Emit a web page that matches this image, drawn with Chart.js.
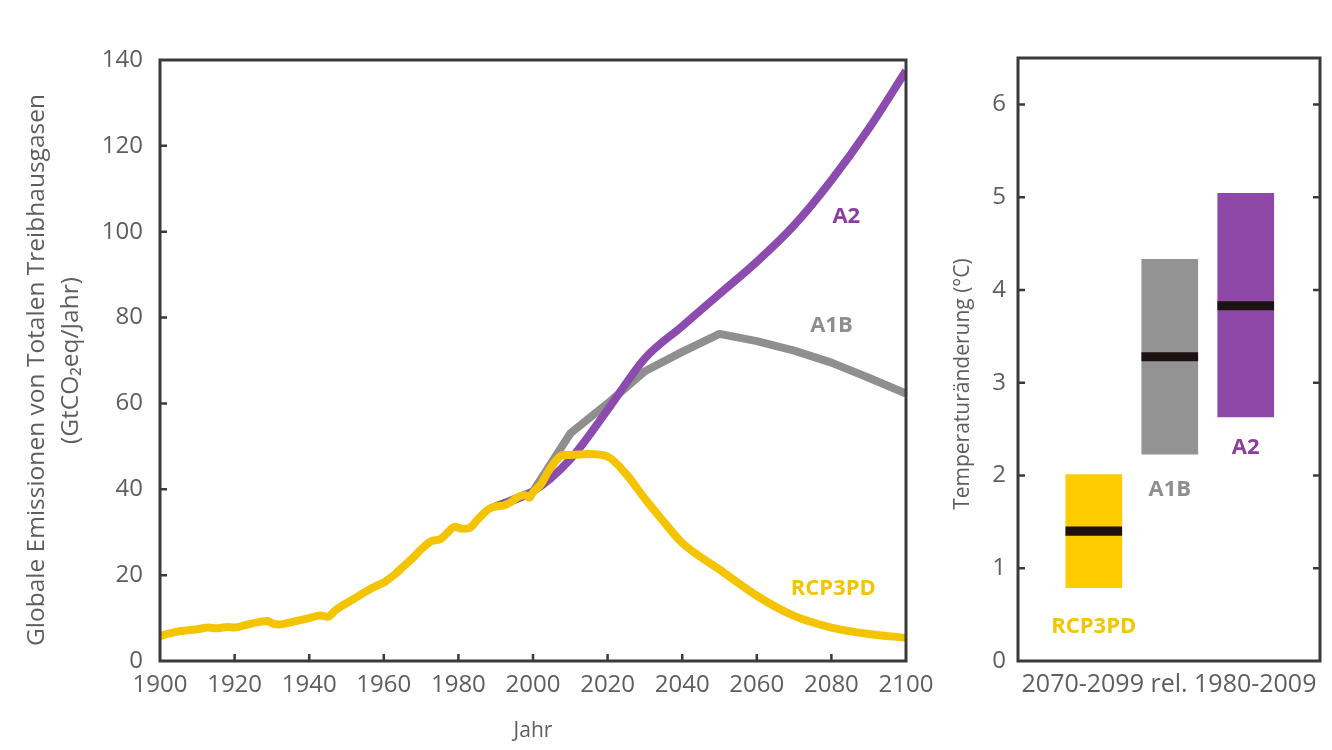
<!DOCTYPE html>
<html>
<head>
<meta charset="utf-8">
<script src="https://cdn.jsdelivr.net/npm/chart.js@4.4.0/dist/chart.umd.min.js"></script>
<style>
body { margin: 0; background: #fff; width: 1332px; height: 750px; position: relative; overflow: hidden; }
#left { position: absolute; left: 0; top: 0; }
#right { position: absolute; left: 940px; top: 0; }
</style>
</head>
<body>
<canvas id="left" width="944" height="750" style="width:944px;height:750px"></canvas>
<canvas id="right" width="392" height="750" style="width:392px;height:750px"></canvas>
<script>
// historical emissions (shared start of all scenarios)
var histYears  = [1900,1902,1905,1908,1910,1913,1915,1918,1920,1923,1926,1929,1930,1932,1935,1938,1940,1943,1945,1947,1950,1953,1955,1958,1960,1963,1965,1968,1970,1973,1975,1977,1979,1981,1983,1985,1988,1990,1992,1994,1996,1998,1999,2000,2002,2004,2006,2008,2010];
var histValues = [5.8,6.3,6.9,7.2,7.4,7.8,7.6,7.9,7.8,8.4,9.0,9.3,8.8,8.5,9.0,9.6,10.0,10.6,10.3,11.8,13.5,15.0,16.1,17.5,18.3,20.2,21.8,24.2,26.0,28.0,28.3,29.8,31.3,30.8,31.0,32.8,35.3,36.0,36.2,37.0,38.2,38.6,38.0,39.3,41.0,44.0,46.5,48.0,48.0];

var rcpYears  = [2015,2020,2025,2030,2035,2040,2050,2060,2070,2080,2090,2100];
var rcpValues = [48.2,47.6,43.5,37.8,32.5,27.5,21.3,15.2,10.5,7.8,6.3,5.4];

var a1bYears  = [1990,2000,2010,2020,2030,2040,2050,2060,2070,2080,2090,2100];
var a1bValues = [36.0,39.5,53.0,60.0,67.5,72.0,76.2,74.5,72.3,69.5,66.0,62.3];

var a2Years  = [1990,2000,2010,2020,2030,2040,2050,2060,2070,2080,2090,2100];
var a2Values = [36.0,39.5,47.0,58.5,70.5,78.0,85.5,93.0,101.5,112.0,124.0,137.5];

// temperature change 2070-2099 rel. 1980-2009
var scenarios = ['RCP3PD', 'A1B', 'A2'];
var tempLow    = [0.79, 2.23, 2.63];
var tempHigh   = [2.01, 4.33, 5.04];
var tempMedian = [1.40, 3.28, 3.83];

var colYellow = '#F5C400', colGray = '#8F8F8F', colPurple = '#8C4BAE';
var tickColor = '#5e5e5e';

Chart.defaults.font.family = "'Open Sans', sans-serif";

function toPoints(xs, ys) {
  var out = [];
  for (var i = 0; i < xs.length; i++) out.push({x: xs[i], y: ys[i]});
  return out;
}

// box round the plot area with inward tick marks
var framePlugin = {
  id: 'frame',
  afterDatasetsDraw: function(chart, args, opts) {
    var ctx = chart.ctx, a = chart.chartArea;
    var xs = chart.scales.x, ys = chart.scales.y;
    ctx.save();
    ctx.strokeStyle = '#3a3a3a';
    ctx.lineWidth = 3;
    ctx.strokeRect(a.left, a.top, a.right - a.left, a.bottom - a.top);
    ctx.lineWidth = 2.5;
    ctx.beginPath();
    ys.ticks.forEach(function(t) {
      if (t.value <= ys.min || t.value >= ys.max) return;
      var py = ys.getPixelForValue(t.value);
      ctx.moveTo(a.left, py); ctx.lineTo(a.left + 7, py);
      if (opts.right) { ctx.moveTo(a.right, py); ctx.lineTo(a.right - 7, py); }
    });
    if (opts.bottom) {
      xs.ticks.forEach(function(t) {
        if (t.value <= xs.min || t.value >= xs.max) return;
        var px = xs.getPixelForValue(t.value);
        ctx.moveTo(px, a.bottom); ctx.lineTo(px, a.bottom - 7);
      });
    }
    ctx.stroke();
    ctx.restore();
  }
};

var textPlugin = {
  id: 'seriesText',
  afterDatasetsDraw: function(chart, args, opts) {
    var ctx = chart.ctx;
    ctx.save();
    ctx.font = "bold 22px 'Open Sans', sans-serif";
    ctx.textAlign = 'center';
    ctx.textBaseline = 'middle';
    opts.items.forEach(function(it) {
      ctx.fillStyle = it.color;
      ctx.fillText(it.text, chart.scales.x.getPixelForValue(it.x), chart.scales.y.getPixelForValue(it.y));
    });
    ctx.restore();
  }
};

new Chart(document.getElementById('left'), {
  type: 'line',
  data: {
    datasets: [
      {
        label: 'RCP3PD',
        data: toPoints(histYears.concat(rcpYears), histValues.concat(rcpValues)),
        borderColor: colYellow, borderWidth: 8, pointRadius: 0,
        cubicInterpolationMode: 'monotone', borderJoinStyle: 'round', borderCapStyle: 'round'
      },
      {
        label: 'A2',
        data: toPoints(a2Years, a2Values),
        borderColor: colPurple, borderWidth: 8, pointRadius: 0,
        cubicInterpolationMode: 'monotone', borderJoinStyle: 'round'
      },
      {
        label: 'A1B',
        data: toPoints(a1bYears, a1bValues),
        borderColor: colGray, borderWidth: 8, pointRadius: 0,
        tension: 0, borderJoinStyle: 'round'
      }
    ]
  },
  options: {
    responsive: false,
    animation: false,
    layout: { padding: { top: 60, right: 38, left: 0, bottom: 0 } },
    plugins: {
      legend: { display: false },
      tooltip: { enabled: false },
      frame: { right: false, bottom: true },
      seriesText: {
        items: [
          { text: 'A2', x: 2084, y: 103.4, color: '#8A3E9E' },
          { text: 'A1B', x: 2080, y: 78, color: '#8E8E8E' },
          { text: 'RCP3PD', x: 2080.5, y: 16.8, color: '#F2C500' }
        ]
      }
    },
    scales: {
      x: {
        type: 'linear', min: 1900, max: 2100,
        grid: { display: false, drawTicks: false },
        border: { display: false },
        ticks: { stepSize: 20, color: tickColor, font: { size: 24 }, padding: 10, maxRotation: 0,
          callback: function(v) { return String(v); } },
        title: { display: true, text: 'Jahr', color: tickColor, font: { size: 21 }, padding: { top: 0, bottom: 6 } },
        afterFit: function(s) { s.height = 89; }
      },
      y: {
        min: 0, max: 140,
        grid: { display: false, drawTicks: false },
        border: { display: false },
        ticks: { stepSize: 20, color: tickColor, font: { size: 24 }, padding: 17 },
        title: {
          display: true,
          text: ['Globale Emissionen von Totalen Treibhausgasen   ', '(GtCO\u2082eq/Jahr)'],
          color: tickColor, font: { size: 24.5, lineHeight: 1.4 }, padding: { top: 20, bottom: 0 }
        },
        afterFit: function(s) { s.width = 160; }
      }
    }
  },
  plugins: [framePlugin, textPlugin]
});

var idx = scenarios.map(function(s, i) { return i + 1; });

new Chart(document.getElementById('right'), {
  type: 'bar',
  data: {
    datasets: [
      {
        label: 'Median',
        data: idx.map(function(x, i) { return { x: x, y: [tempMedian[i] - 0.045, tempMedian[i] + 0.045] }; }),
        backgroundColor: '#1c1212', barThickness: 56, grouped: false, borderSkipped: false
      },
      {
        label: 'Spanne',
        data: idx.map(function(x, i) { return { x: x, y: [tempLow[i], tempHigh[i]] }; }),
        backgroundColor: ['#FFCC00', '#939393', '#8E48A8'], barThickness: 56, grouped: false, borderSkipped: false
      }
    ]
  },
  options: {
    responsive: false,
    animation: false,
    layout: { padding: { top: 58, right: 12, left: 0, bottom: 0 } },
    plugins: {
      legend: { display: false },
      tooltip: { enabled: false },
      frame: { right: true, bottom: false },
      seriesText: {
        items: [
          { text: scenarios[0], x: 1, y: 0.37, color: '#F2C500' },
          { text: scenarios[1], x: 2, y: 1.85, color: '#8E8E8E' },
          { text: scenarios[2], x: 3, y: 2.30, color: '#8A3E9E' }
        ]
      }
    },
    scales: {
      x: {
        type: 'linear', min: 0.4, max: 3.58,
        grid: { display: false, drawTicks: false },
        border: { display: false },
        ticks: { display: false },
        title: { display: true, text: '2070-2099 rel. 1980-2009', color: tickColor, font: { size: 25 }, padding: { top: 0, bottom: 50 } },
        afterFit: function(s) { s.height = 89; }
      },
      y: {
        min: 0, max: 6.5,
        grid: { display: false, drawTicks: false },
        border: { display: false },
        ticks: { stepSize: 1, includeBounds: false, color: tickColor, font: { size: 24 }, padding: 12 },
        title: { display: true, text: 'Temperaturänderung (°C)         ', color: tickColor, font: { size: 21 }, padding: { top: 10, bottom: 0 } },
        afterFit: function(s) { s.width = 78; }
      }
    }
  },
  plugins: [framePlugin, textPlugin]
});
</script>
</body>
</html>
